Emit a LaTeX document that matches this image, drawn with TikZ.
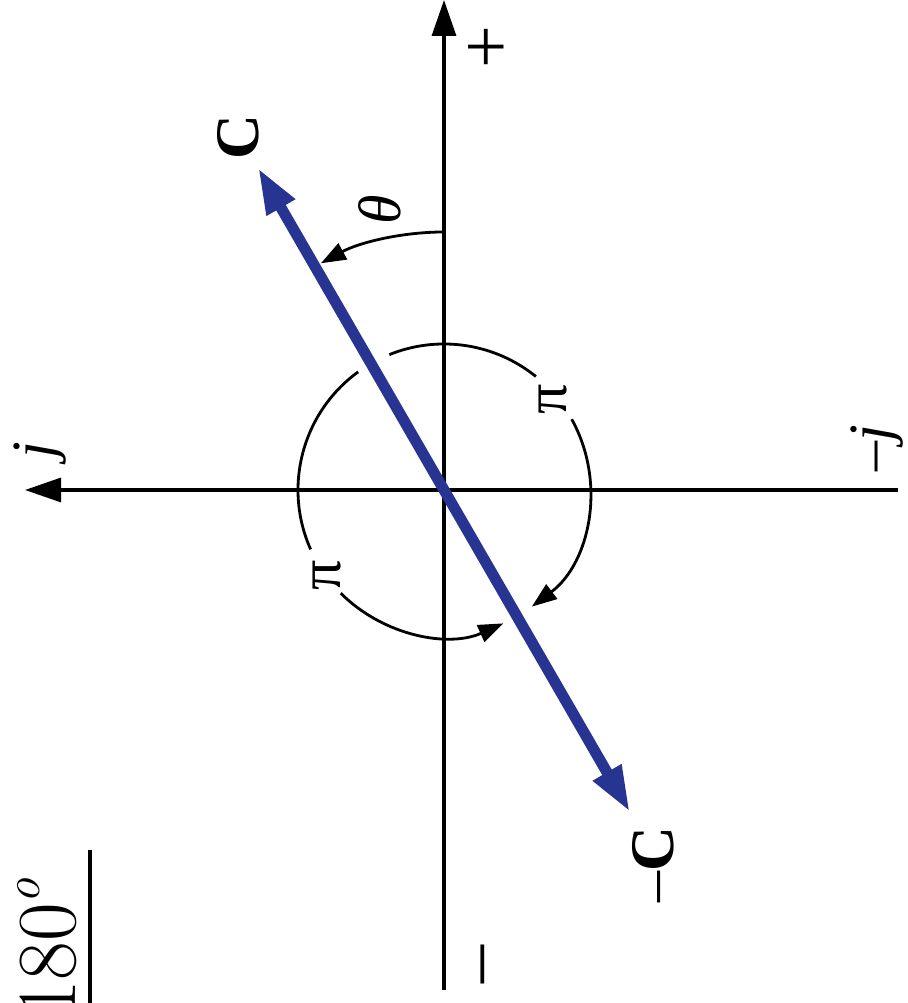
\documentclass[tikz,border=0pt]{standalone}
\usepackage{fontspec}
\newfontfamily\tms{Liberation Serif}
\usetikzlibrary{arrows.meta}
\definecolor{cblue}{RGB}{40,52,145}
\begin{document}
\begin{tikzpicture}[x=1pt,y=1pt,
  axis/.style={line width=3.2pt, -{Triangle[length=36pt,width=24pt]}},
  arcline/.style={line width=2.8pt},
  arctip/.style={-{Triangle[length=25pt,width=18pt]}},
  lbl/.style={font=\tms\fontsize{60}{70}\selectfont, rotate=90, inner sep=0pt},
  lblbig/.style={lbl, font=\tms\fontsize{76}{80}\selectfont},
  lblit/.style={lbl, font=\tms\itshape\fontsize{60}{70}\selectfont},
  lblbf/.style={lbl, font=\tms\bfseries\fontsize{62}{70}\selectfont},
  vec/.style={cblue, line width=11pt, {Triangle[length=46pt,width=30pt]}-{Triangle[length=46pt,width=30pt]}}
]
\useasboundingbox (0,0) rectangle (907,1003);
\coordinate (O) at (444,513);
\coordinate (axB) at (444,13);
\coordinate (axT) at (444,1003);
\coordinate (axR) at (898,513);
\coordinate (axL) at (25,513);
\draw[axis] (axB) -- (axT);
\draw[axis] (axR) -- (axL);
% blue vector
\coordinate (Ct) at ([shift={(120:372)}]O);
\coordinate (mCt) at ([shift={(300:372)}]O);
\draw[vec] (mCt) -- (Ct);
% theta arc
\draw[arcline, arctip] ([shift={(90:258)}]O) arc[start angle=90, end angle=118.5, radius=258pt];
% pi arcs
\draw[arcline] ([shift={(112:146)}]O) arc[start angle=112, end angle=51, radius=146pt];
\draw[arcline, arctip] ([shift={(29:146)}]O) arc[start angle=29, end angle=-53, radius=146pt];
\draw[arcline] ([shift={(126:146)}]O) arc[start angle=126, end angle=204, radius=146pt];
\draw[arcline, arctip] ([shift={(225:146)}]O) arc[start angle=225, end angle=294, radius=146pt];
% labels
\node[lblbig] (plus) at (490,956) {+};
\node[lblbig] (minus) at (491,38) {–};
\node[lblit] (theta) at (380,793) {θ};
\node[lblbf] (C) at (238,866) {C};
\node[lblbf] (mC) at (653,138) {{\mdseries –}C};
\node[lblit] (j) at (40,553) {j};
\node[lbl] (mj) at (877,555) {–\textit{j}};
\node[lbl] (pi1) at (553,604) {π};
\node[lbl] (pi2) at (327,428) {π};
% fraction fragment
\node[rotate=90, anchor=base west, inner sep=0pt, font=\fontsize{84}{90}\selectfont] (den) at (75,-16) {180\raisebox{0.42em}{\fontsize{50}{50}\selectfont\itshape o}};
\coordinate (fl1) at (90,153);
\coordinate (fl2) at (90,-10);
\draw[line width=3.5pt] (fl1) -- (fl2);
\end{tikzpicture}
\end{document}
